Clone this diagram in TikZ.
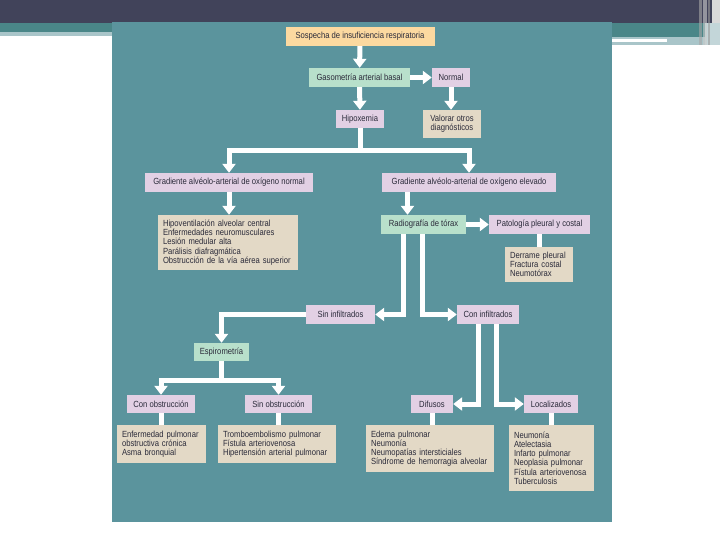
\documentclass[tikz,border=0pt]{standalone}
\usepackage{fontspec}
\setmainfont{Liberation Sans}[FakeStretch=0.86]
\usetikzlibrary{arrows.meta}
\definecolor{banda}{HTML}{41435A}
\definecolor{tira}{HTML}{4A8688}
\definecolor{tiraclara}{HTML}{A9C5C9}
\definecolor{fondo}{HTML}{5B949D}
\definecolor{durazno}{HTML}{FCD9A0}
\definecolor{menta}{HTML}{B8E0CB}
\definecolor{lila}{HTML}{E2D0E4}
\definecolor{arena}{HTML}{E3D9C6}
\definecolor{texto}{HTML}{2B2B3A}

\begin{document}
\begin{tikzpicture}[x=1pt,y=-1pt,
	caja/.style={inner sep=0pt,font=\fontsize{8.9}{9.2}\selectfont,text=texto,align=center},
	lista/.style={caja,inner xsep=5pt,align=left,fill=arena},
	linea/.style={draw=white,line width=5pt},
	flecha/.style={linea,-{Triangle[width=13pt,length=9pt]}}]
	\useasboundingbox (0,0) rectangle (720,540);
	\fill[banda] (0,0) rectangle (720,23);
	\fill[tira] (0,23) rectangle (112,32);
	\fill[tiraclara] (0,32) rectangle (112,36);
	\fill[tira] (612,23) rectangle (705,37);
	\fill[tiraclara] (612,37) rectangle (705,45);
	\fill[white] (612,39) rectangle (667,42);
	\fill[tiraclara!70] (705,23) rectangle (720,45);
	\fill[gray!70,opacity=0.6] (699,0) rectangle (702,45);
	\fill[gray!40,opacity=0.6] (703,0) rectangle (707,45);
	\fill[gray!80,opacity=0.6] (708,0) rectangle (710,45);
	\fill[gray!30] (712,0) rectangle (720,23);
	\fill[fondo] (112,22) rectangle (612,522);

	\node[caja,fill=durazno,minimum width=149,minimum height=19] (sosp) at (360,36.5) {Sospecha de insuficiencia respiratoria};
	\node[caja,fill=menta,minimum width=101,minimum height=19] (gaso) at (359.5,77.5) {Gasometría arterial basal};
	\node[caja,fill=lila,minimum width=38,minimum height=19] (normal) at (451,77.5) {Normal};
	\node[caja,fill=arena,minimum width=58,minimum height=28] (valorar) at (452,124) {Valorar otros\\diagnósticos};
	\node[caja,fill=lila,minimum width=48,minimum height=18] (hipox) at (360,119) {Hipoxemia};

	\node[caja,fill=lila,minimum width=168,minimum height=19] (gradn) at (229,182.5) {Gradiente alvéolo-arterial de oxígeno normal};
	\node[caja,fill=lila,minimum width=174,minimum height=19] (grade) at (469,182.5) {Gradiente alvéolo-arterial de oxígeno elevado};
	\node[lista,text width=130,minimum height=55] (hipov) at (228,242.5) {Hipoventilación alveolar central\\Enfermedades neuromusculares\\Lesión medular alta\\Parálisis diafragmática\\Obstrucción de la vía aérea superior};
	\node[caja,fill=menta,minimum width=85,minimum height=19] (radio) at (423.5,224.5) {Radiografía de tórax};
	\node[caja,fill=lila,minimum width=101,minimum height=19] (pato) at (539.5,224.5) {Patología pleural y costal};
	\node[lista,text width=58,minimum height=35] (derrame) at (539,264.5) {Derrame pleural\\Fractura costal\\Neumotórax};

	\node[caja,fill=lila,minimum width=69,minimum height=19] (sininf) at (340.5,314.5) {Sin infiltrados};
	\node[caja,fill=lila,minimum width=62,minimum height=19] (coninf) at (488,314.5) {Con infiltrados};
	\node[caja,fill=menta,minimum width=55,minimum height=18] (espiro) at (221.5,352) {Espirometría};

	\node[caja,fill=lila,minimum width=68,minimum height=18] (conobs) at (161,404) {Con obstrucción};
	\node[caja,fill=lila,minimum width=67,minimum height=18] (sinobs) at (278.5,404) {Sin obstrucción};
	\node[caja,fill=lila,minimum width=42,minimum height=18] (difusos) at (432,404) {Difusos};
	\node[caja,fill=lila,minimum width=54,minimum height=18] (localiz) at (551,404) {Localizados};
	\node[lista,text width=79,minimum height=38] (enf) at (161.5,444) {Enfermedad pulmonar\\obstructiva crónica\\Asma bronquial};
	\node[lista,text width=108,minimum height=38] (trombo) at (277,444) {Tromboembolismo pulmonar\\Fístula arteriovenosa\\Hipertensión arterial pulmonar};
	\node[lista,text width=118,minimum height=47] (edema) at (430,448.5) {Edema pulmonar\\Neumonía\\Neumopatías intersticiales\\Síndrome de hemorragia alveolar};
	\node[lista,text width=75,minimum height=66] (neum) at (551.5,458) {Neumonía\\Atelectasia\\Infarto pulmonar\\Neoplasia pulmonar\\Fístula arteriovenosa\\Tuberculosis};

	\draw[flecha] (sosp) -- (gaso);
	\draw[flecha] (gaso) -- (normal);
	\draw[flecha] (normal.south) -- (normal.south |- valorar.north);
	\draw[flecha] (gaso) -- (hipox);
	\draw[linea] (hipox.south) -- ++(0,22) coordinate (cruce);
	\draw[flecha] (cruce) -| (gradn.north);
	\draw[flecha] (cruce) -| (grade.north);
	\draw[flecha] (gradn) -- (gradn |- hipov.north);
	\coordinate (bajada) at ([xshift=-16]radio.north);
	\draw[flecha] (grade.south -| bajada) -- (bajada);
	\draw[flecha] (radio) -- (pato);
	\draw[linea] (pato.south) -- (pato.south |- derrame.north);
	\draw[flecha] ([xshift=-20]radio.south) |- (sininf.east);
	\draw[flecha] ([xshift=-1]radio.south) |- (coninf.west);
	\draw[flecha] (sininf.west) -| (espiro.north);
	\draw[linea] (espiro.south) -- ++(0,19) coordinate (cruce2);
	\draw[flecha] (cruce2) -| (conobs.north);
	\draw[flecha] (cruce2) -| (sinobs.north);
	\draw[linea] (conobs.south) -- (conobs.south |- enf.north);
	\draw[linea] (sinobs.south) -- (sinobs.south |- trombo.north);
	\draw[flecha] ([xshift=-10]coninf.south) |- (difusos.east);
	\draw[flecha] ([xshift=8]coninf.south) |- (localiz.west);
	\draw[linea] (difusos.south) -- (difusos.south |- edema.north);
	\draw[linea] (localiz.south) -- (localiz.south |- neum.north);
\end{tikzpicture}
\end{document}
